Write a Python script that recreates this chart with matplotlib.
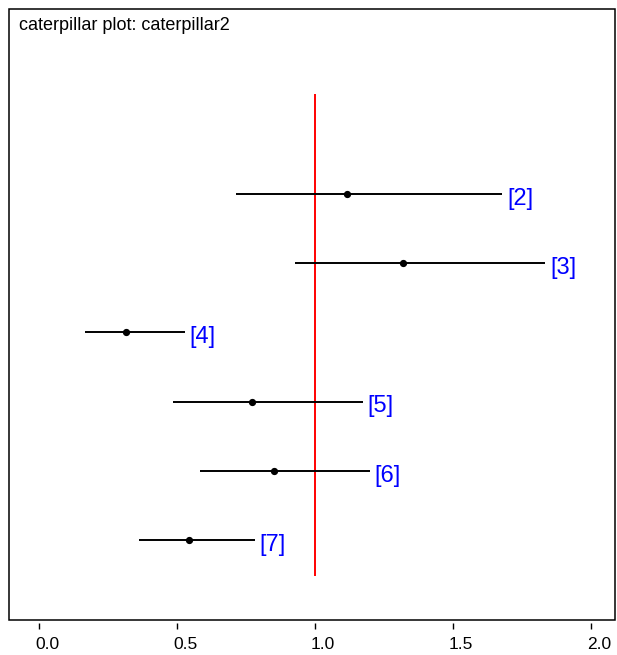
import matplotlib
matplotlib.use("Agg")
import matplotlib.pyplot as plt
import numpy as np
from matplotlib.patches import Rectangle
from matplotlib.transforms import ScaledTranslation

plt.rcParams['font.family'] = ['Liberation Sans', 'DejaVu Sans']

# ========= caterpillar plot data =========
labels = ['[2]', '[3]', '[4]', '[5]', '[6]', '[7]']
rows = np.array([2, 3, 4, 5, 6, 7])
means = np.array([1.115, 1.319, 0.314, 0.771, 0.849, 0.542])
lower = np.array([0.712, 0.927, 0.167, 0.486, 0.582, 0.361])
upper = np.array([1.679, 1.835, 0.528, 1.172, 1.198, 0.781])
ref_value = 1.0
ref_span = [0.55, 7.52]
xticks = [0.0, 0.5, 1.0, 1.5, 2.0]
title = 'caterpillar plot: caterpillar2'

fig = plt.figure(figsize=[6.17, 6.55], dpi=100)
ax = fig.add_axes([9/617, 35/655, 606/617, 611/655])

ax.vlines(ref_value, ref_span[0], ref_span[1], color='red', lw=1.4)
ax.hlines(rows, lower, upper, color='black', lw=1.4)
ax.plot(means, rows, 'o', color='black', ms=4.2)
for r, hi, lab in zip(rows, upper, labels):
    ax.annotate(lab, (hi, r), xytext=(3.5, -3.5), textcoords='offset points',
                color='#0000ff', fontsize=17, va='center', ha='left')

ax.set_xlim(-0.110, 2.087)
ax.set_ylim(8.156, -0.673)
ax.set_yticks([])
ax.set_xticks(xticks)
ax.set_xticklabels(['%.1f' % t for t in xticks])

# R-style box with detached ticks
for s in ax.spines.values():
    s.set_visible(False)
ax.spines['bottom'].set_position(('outward', 2.5))
ax.add_patch(Rectangle((0, 0), 1, 1, transform=ax.transAxes, fill=False,
                       lw=1.1, ec='black', clip_on=False))
ax.tick_params(axis='x', direction='out', length=4, width=1.0, pad=6,
               labelsize=12.5)
for lbl in ax.get_xticklabels():
    lbl.set_transform(lbl.get_transform() + ScaledTranslation(0.08, 0, fig.dpi_scale_trans))

ax.annotate(title, (0, 1), xycoords='axes fraction', xytext=(7, -6),
            textcoords='offset points', fontsize=13, va='top', ha='left')

plt.savefig('out.png', dpi=100)
plt.close(fig)
